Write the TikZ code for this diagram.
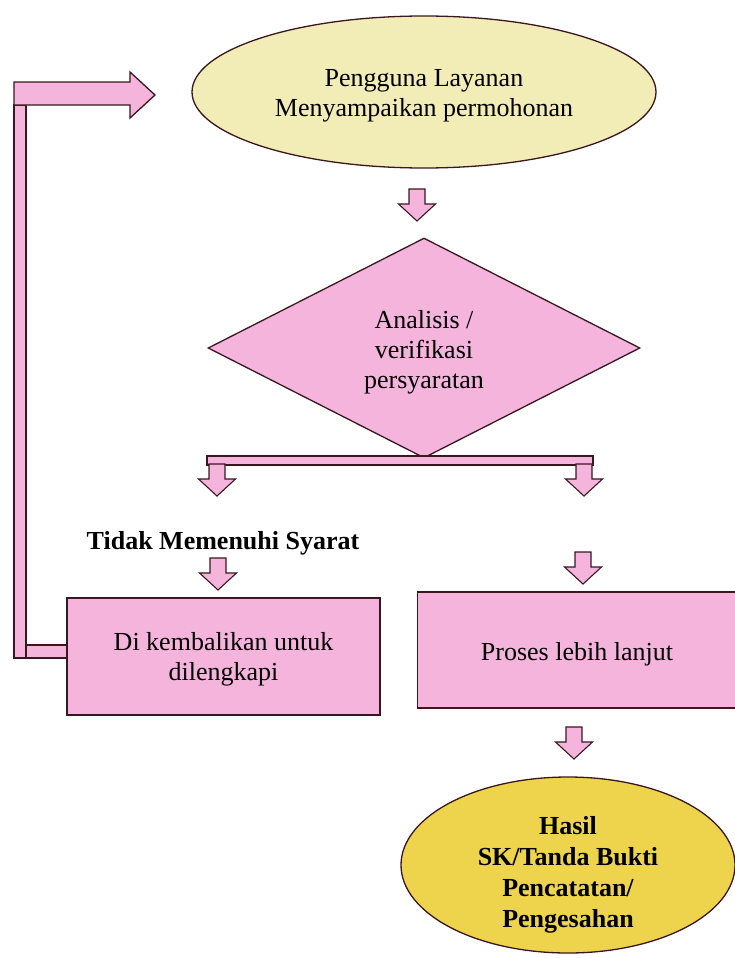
\documentclass[tikz,border=0pt]{standalone}
\usepackage{fontspec}
\setmainfont{Liberation Serif}
\usetikzlibrary{shapes.geometric,calc}
\definecolor{pinkfill}{RGB}{244,180,220}
\definecolor{paleyellow}{RGB}{242,236,182}
\definecolor{goldfill}{RGB}{238,212,76}
\definecolor{edge}{RGB}{58,22,30}
\tikzset{
  shape line/.style={draw=edge, line width=1.3pt},
  lbl/.style={font=\fontsize{26}{30}\selectfont, align=center, text=black},
  blbl/.style={font=\fontsize{26}{31}\selectfont\bfseries, align=center, text=black},
  % block arrow pointing down, origin at the middle of its top edge
  darrow/.pic={
    \draw[shape line, fill=pinkfill, line width=1.1pt]
      (-8,0) -- (8,0) -- (8,15) -- (18.5,15) -- (0,32) -- (-18.5,15) -- (-8,15) -- cycle;
  }
}
\begin{document}
\begin{tikzpicture}[x=1pt,y=-1pt]
\useasboundingbox (0,0) rectangle (735,958);

% shapes of the steps
\node[ellipse, shape line, fill=paleyellow, minimum width=464, minimum height=152] (req) at (424,92) {};
\node[diamond, shape line, fill=pinkfill, minimum width=432, minimum height=220, inner sep=0pt] (check) at (424,348) {};
\node[rectangle, shape line, fill=pinkfill, minimum width=313, minimum height=117] (back) at (223.5,656.5) {};
\node[rectangle, shape line, fill=pinkfill, minimum width=319, minimum height=116] (next) at (577,650) {};
\node[ellipse, shape line, fill=goldfill, minimum width=334, minimum height=176] (res) at (568,865) {};

% texts of the steps
\node[lbl] (reqtxt) at ($(req.center)+(0,4)$) {Pengguna Layanan\\Menyampaikan permohonan};
\node[lbl] (checktxt) at ($(check.center)+(0,4)$) {Analisis /\\verifikasi\\persyaratan};
\node[blbl] (nok) at (223,543) {Tidak Memenuhi Syarat};
\node[lbl] (backtxt) at ($(back.center)+(0,3)$) {Di kembalikan untuk\\dilengkapi};
\node[lbl] (nexttxt) at ($(next.center)+(0,4)$) {Proses lebih lanjut};
\node[blbl] (restxt) at ($(res.center)+(0,10)$) {Hasil\\SK/Tanda Bukti\\Pencatatan/\\Pengesahan};

% down arrows between steps
\pic at (417,189) {darrow};
\coordinate (barL) at (207,456);
\coordinate (barR) at (593,456);
\draw[shape line, fill=pinkfill, line width=1.1pt] (barL) rectangle ($(barR)+(0,9)$);
\pic at (217,464) {darrow};
\pic at (584,464) {darrow};
\pic at (218,558) {darrow};
\pic at (583,552) {darrow};
\pic at (574,727) {darrow};

% return connector back to the request
\draw[shape line, fill=pinkfill] (14,105) rectangle (26,658);
\draw[shape line, fill=pinkfill] (26,645) rectangle ($(back.west)+(0,1.5)$);
\draw[shape line, fill=pinkfill]
  (14,82) -- (130,82) -- (130,72) -- (155,95) -- (130,118) -- (130,105) -- (14,105) -- cycle;
\end{tikzpicture}
\end{document}
